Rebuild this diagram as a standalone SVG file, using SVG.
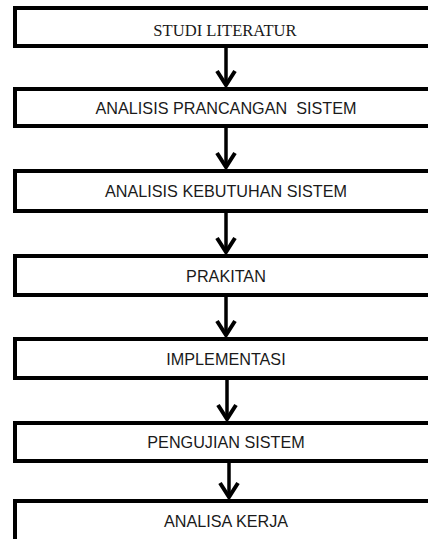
<svg xmlns="http://www.w3.org/2000/svg" width="428" height="539" viewBox="0 0 428 539">
<defs>
<style>
.box{fill:#fff;stroke:#000;stroke-width:4}
.lbl{font-family:"Liberation Sans",Arial,sans-serif;font-size:16.2px;fill:#1a1a1a;text-anchor:middle}
.ser{font-family:"Liberation Serif","Times New Roman",serif;font-size:16.6px;fill:#1a1a1a;text-anchor:middle}
.con{stroke:#000;stroke-width:3.5;fill:none}
</style>
<marker id="ah" markerUnits="userSpaceOnUse" viewBox="-20 -12 24 24" markerWidth="24" markerHeight="24" refX="0" refY="0" orient="auto" overflow="visible">
<path d="M-14,-9 L0,0 L-14,9" fill="none" stroke="#000" stroke-width="4" stroke-linejoin="miter"/>
</marker>
</defs>
<rect width="428" height="539" fill="#fff"/>
<g id="connectors">
<line class="con" x1="226" y1="48" x2="226" y2="85" marker-end="url(#ah)"/>
<line class="con" x1="226" y1="128" x2="226" y2="167" marker-end="url(#ah)"/>
<line class="con" x1="226" y1="213" x2="226" y2="252" marker-end="url(#ah)"/>
<line class="con" x1="226" y1="297" x2="226" y2="335" marker-end="url(#ah)"/>
<line class="con" x1="227" y1="380" x2="227" y2="419" marker-end="url(#ah)"/>
<line class="con" x1="229" y1="463" x2="229" y2="497" marker-end="url(#ah)"/>
</g>
<g id="n1"><rect class="box" x="15" y="8" width="440" height="38"/><text class="ser" x="225" y="35.5">STUDI LITERATUR</text></g>
<g id="n2"><rect class="box" x="15" y="89" width="440" height="37"/><text class="lbl" x="226" y="113.5">ANALISIS PRANCANGAN&#160; SISTEM</text></g>
<g id="n3"><rect class="box" x="15" y="171" width="440" height="40"/><text class="lbl" x="226" y="197">ANALISIS KEBUTUHAN SISTEM</text></g>
<g id="n4"><rect class="box" x="15" y="256" width="440" height="39"/><text class="lbl" x="226" y="281.5">PRAKITAN</text></g>
<g id="n5"><rect class="box" x="15" y="339" width="440" height="39"/><text class="lbl" x="226" y="364.5">IMPLEMENTASI</text></g>
<g id="n6"><rect class="box" x="15" y="423" width="440" height="38"/><text class="lbl" x="226" y="448">PENGUJIAN SISTEM</text></g>
<g id="n7"><rect class="box" x="15" y="501" width="440" height="60"/><text class="lbl" x="226" y="527">ANALISA KERJA</text></g>
</svg>
